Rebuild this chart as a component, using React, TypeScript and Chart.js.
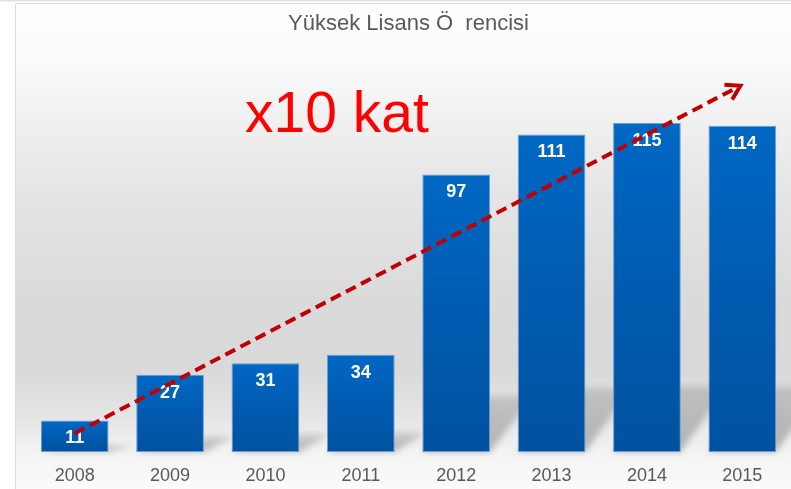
import React, { useEffect, useRef } from "react";
import { Chart, registerables } from "chart.js";

Chart.register(...registerables);

// ---- data ----
const years: string[] = ["2008", "2009", "2010", "2011", "2012", "2013", "2014", "2015"];
const students: number[] = [11, 27, 31, 34, 97, 111, 115, 114];
const chartTitle = "Yüksek Lisans Ö  rencisi";
const growthNote = "x10 kat";
// trend arrow, in data units (category index, value)
const trendFrom: [number, number] = [0, 6.5];
const trendTo: [number, number] = [6.98, 128];
// note anchor, in data units
const noteAt: [number, number] = [2.75, 112];

const FONT = "'Liberation Sans', Arial, Helvetica, sans-serif";

const backgroundPlugin = {
  id: "panelBackground",
  beforeDraw(chart: any) {
    const { ctx, width, height } = chart;
    ctx.save();
    ctx.fillStyle = "#ffffff";
    ctx.fillRect(0, 0, width, height);
    ctx.fillStyle = "#e2e2e2";
    ctx.fillRect(0, 0, width, 1.5);
    const top = 3;
    const left = 15;
    const g = ctx.createLinearGradient(0, top, 0, height);
    const span = height - top;
    const stop = (y: number, c: string) => g.addColorStop(Math.min(1, Math.max(0, (y - top) / span)), c);
    stop(3, "#ffffff");
    stop(60, "#fbfbfb");
    stop(120, "#f0f0f0");
    stop(200, "#e4e4e4");
    stop(300, "#dadada");
    stop(370, "#d9d9d9");
    stop(420, "#e6e6e6");
    stop(455, "#f4f4f4");
    stop(489, "#fbfbfb");
    ctx.fillStyle = g;
    ctx.fillRect(left, top, width - left, height - top);
    ctx.strokeStyle = "#dddddd";
    ctx.lineWidth = 1;
    ctx.strokeRect(left + 0.5, top + 0.5, width - left, height - top);
    ctx.restore();
  },
};

const shadowPlugin = {
  id: "barShadows",
  beforeDatasetsDraw(chart: any) {
    const { ctx } = chart;
    const meta = chart.getDatasetMeta(0);
    ctx.save();
    ctx.filter = "blur(3px)";
    meta.data.forEach((bar: any) => {
      const p = bar.getProps(["x", "y", "base", "width"], true);
      const h = p.base - p.y;
      const xL = p.x - p.width / 2;
      const xR = p.x + p.width / 2;
      const dy = h * 0.2;
      const dx = 26 + h * 0.06;
      const g = ctx.createLinearGradient(0, p.base, 0, p.base - dy);
      g.addColorStop(0, "rgba(0,0,0,0.26)");
      g.addColorStop(1, "rgba(0,0,0,0.13)");
      ctx.fillStyle = g;
      ctx.beginPath();
      ctx.moveTo(xL, p.base);
      ctx.lineTo(xR, p.base);
      ctx.lineTo(xR + dx, p.base - dy);
      ctx.lineTo(xL + dx, p.base - dy);
      ctx.closePath();
      ctx.fill();
    });
    ctx.restore();
  },
};

const valueLabelPlugin = {
  id: "valueLabels",
  afterDatasetsDraw(chart: any) {
    const { ctx } = chart;
    const meta = chart.getDatasetMeta(0);
    ctx.save();
    ctx.fillStyle = "#ffffff";
    ctx.font = `bold 18px ${FONT}`;
    ctx.textAlign = "center";
    ctx.textBaseline = "middle";
    meta.data.forEach((bar: any, i: number) => {
      const p = bar.getProps(["x", "y"], true);
      ctx.fillText(String(students[i]), p.x, p.y + 18);
    });
    ctx.restore();
  },
};

const annotationPlugin = {
  id: "trendAnnotation",
  afterDraw(chart: any) {
    const { ctx } = chart;
    const xs = chart.scales.x;
    const ys = chart.scales.y;
    ctx.save();
    // note text
    ctx.fillStyle = "#ff0000";
    ctx.font = `57px ${FONT}`;
    ctx.textAlign = "center";
    ctx.textBaseline = "alphabetic";
    ctx.fillText(growthNote, xs.getPixelForValue(noteAt[0]), ys.getPixelForValue(noteAt[1]));
    // dashed arrow
    const x0 = xs.getPixelForValue(trendFrom[0]);
    const y0 = ys.getPixelForValue(trendFrom[1]);
    const x1 = xs.getPixelForValue(trendTo[0]);
    const y1 = ys.getPixelForValue(trendTo[1]);
    const ang = Math.atan2(y1 - y0, x1 - x0);
    ctx.strokeStyle = "#c00000";
    ctx.lineWidth = 4;
    ctx.setLineDash([11, 6]);
    ctx.beginPath();
    ctx.moveTo(x0, y0);
    ctx.lineTo(x1 - 3 * Math.cos(ang), y1 - 3 * Math.sin(ang));
    ctx.stroke();
    ctx.setLineDash([]);
    const len = 16;
    ctx.lineJoin = "miter";
    ctx.beginPath();
    ctx.moveTo(x1 - len * Math.cos(ang - 0.55), y1 - len * Math.sin(ang - 0.55));
    ctx.lineTo(x1, y1);
    ctx.lineTo(x1 - len * Math.cos(ang + 0.55), y1 - len * Math.sin(ang + 0.55));
    ctx.stroke();
    ctx.restore();
  },
};

export default function App() {
  const canvasRef = useRef<HTMLCanvasElement | null>(null);

  useEffect(() => {
    const canvas = canvasRef.current;
    if (!canvas) return;
    const chart = new Chart(canvas, {
      type: "bar",
      data: {
        labels: years,
        datasets: [
          {
            data: students,
            backgroundColor: (c: any) => {
              const ch = c.chart;
              const ys = ch.scales?.y;
              const v = c.parsed?.y;
              if (!ys || v == null || !ch.chartArea) return "#005bb0";
              const top = ys.getPixelForValue(v);
              const bottom = ys.getPixelForValue(0);
              if (!isFinite(top) || !isFinite(bottom) || bottom - top < 1) return "#005bb0";
              const g = ch.ctx.createLinearGradient(0, top, 0, bottom);
              g.addColorStop(0, "#0068c4");
              g.addColorStop(0.5, "#005bb0");
              g.addColorStop(1, "#0052a0");
              return g;
            },
            borderColor: "rgba(90,150,215,0.9)",
            borderWidth: 1,
            borderSkipped: false,
            categoryPercentage: 1,
            barPercentage: 0.71,
          },
        ],
      },
      options: {
        animation: false,
        responsive: true,
        maintainAspectRatio: false,
        layout: { padding: { top: 11, left: 27, right: 1, bottom: 0 } },
        plugins: {
          legend: { display: false },
          tooltip: { enabled: false },
          title: {
            display: true,
            text: chartTitle,
            color: "#595959",
            font: { family: FONT, size: 22, weight: "normal" },
            padding: { top: 0, bottom: 14 },
          },
        },
        scales: {
          x: {
            grid: { display: false, drawTicks: false, tickLength: 0 },
            border: { display: false },
            ticks: {
              color: "#595959",
              font: { family: FONT, size: 18 },
              padding: 13,
            },
            afterFit: (scale: any) => {
              scale.height = 37;
            },
          },
          y: {
            display: false,
            min: 0,
            max: 140,
          },
        },
      },
      plugins: [backgroundPlugin, shadowPlugin, valueLabelPlugin, annotationPlugin],
    });
    return () => chart.destroy();
  }, []);

  return (
    <div style={{ position: "fixed", left: 0, top: 0, width: 791, height: 489 }}>
      <canvas ref={canvasRef} />
    </div>
  );
}
